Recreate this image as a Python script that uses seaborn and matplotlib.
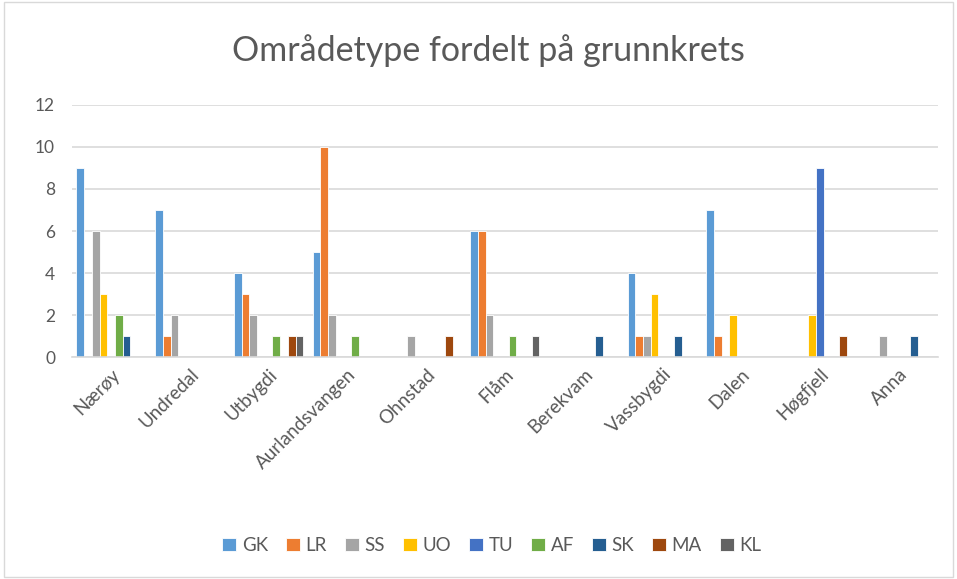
import pandas as pd
import matplotlib.pyplot as plt
import seaborn as sns
from matplotlib.patches import Rectangle

# Data
grunnkretser = ["Nærøy", "Undredal", "Utbygdi", "Aurlandsvangen", "Ohnstad", "Flåm",
                "Berekvam", "Vassbygdi", "Dalen", "Høgfjell", "Anna"]
typer = ["GK", "LR", "SS", "UO", "TU", "AF", "SK", "MA", "KL"]

GK = [9, 7, 4, 5, 0, 6, 0, 4, 7, 0, 0]
LR = [0, 1, 3, 10, 0, 6, 0, 1, 1, 0, 0]
SS = [6, 2, 2, 2, 1, 2, 0, 1, 0, 0, 1]
UO = [3, 0, 0, 0, 0, 0, 0, 3, 2, 2, 0]
TU = [0, 0, 0, 0, 0, 0, 0, 0, 0, 9, 0]
AF = [2, 0, 1, 1, 0, 1, 0, 0, 0, 0, 0]
SK = [1, 0, 0, 0, 0, 0, 1, 1, 0, 0, 1]
MA = [0, 0, 1, 0, 1, 0, 0, 0, 0, 1, 0]
KL = [0, 0, 1, 0, 0, 1, 0, 0, 0, 0, 0]

farger = ["#5B9BD5", "#ED7D31", "#A5A5A5", "#FFC000", "#4472C4",
          "#70AD47", "#255E91", "#9E480E", "#636363"]

serier = [GK, LR, SS, UO, TU, AF, SK, MA, KL]
rows = []
for t, vals in zip(typer, serier):
    for g, v in zip(grunnkretser, vals):
        rows.append({"grunnkrets": g, "type": t, "antall": v})
df = pd.DataFrame(rows)

sns.set_style("white")
plt.rcParams["font.family"] = ["Lato", "DejaVu Sans"]
tekst = "#595959"

fig = plt.figure(figsize=(9.57, 5.79), dpi=100)
ax = fig.add_axes([0.075, 0.383, 0.905, 0.436])

sns.barplot(data=df, x="grunnkrets", y="antall", hue="type", order=grunnkretser,
            hue_order=typer, palette=farger, width=0.88, edgecolor="white",
            linewidth=0.6, saturation=1, ax=ax, legend=True)

ax.set_ylim(0, 12)
ax.set_yticks(range(0, 13, 2))
ax.set_xlim(-0.5, len(grunnkretser) - 0.5)
ax.yaxis.grid(True, color="#D9D9D9", linewidth=1.2)
ax.set_axisbelow(True)
for s in ["top", "right", "left"]:
    ax.spines[s].set_visible(False)
ax.spines["bottom"].set_color("#D9D9D9")
ax.spines["bottom"].set_linewidth(1.2)
ax.set_xlabel("")
ax.set_ylabel("")
ax.tick_params(axis="y", length=0, labelsize=12.5, colors=tekst, pad=12)
ax.tick_params(axis="x", length=0, labelsize=13.5, colors=tekst, pad=6)
plt.setp(ax.get_xticklabels(), rotation=45, ha="right", rotation_mode="anchor")

fig.text(0.51, 0.912, "Områdetype fordelt på grunnkrets", ha="center", va="center",
         fontsize=24.5, color=tekst)

ax.legend(loc="center", ncol=9, frameon=False, fontsize=13.5, handlelength=0.75,
          handleheight=0.75, handletextpad=0.3, columnspacing=0.95, labelcolor=tekst)
leg = ax.get_legend()
leg.set_bbox_to_anchor((0.514, 0.058), transform=fig.transFigure)

fig.patches.append(Rectangle((0.004, 0.004), 0.992, 0.992, transform=fig.transFigure,
                             fill=False, edgecolor="#D9D9D9", linewidth=1))

plt.savefig("out.png", dpi=100)
